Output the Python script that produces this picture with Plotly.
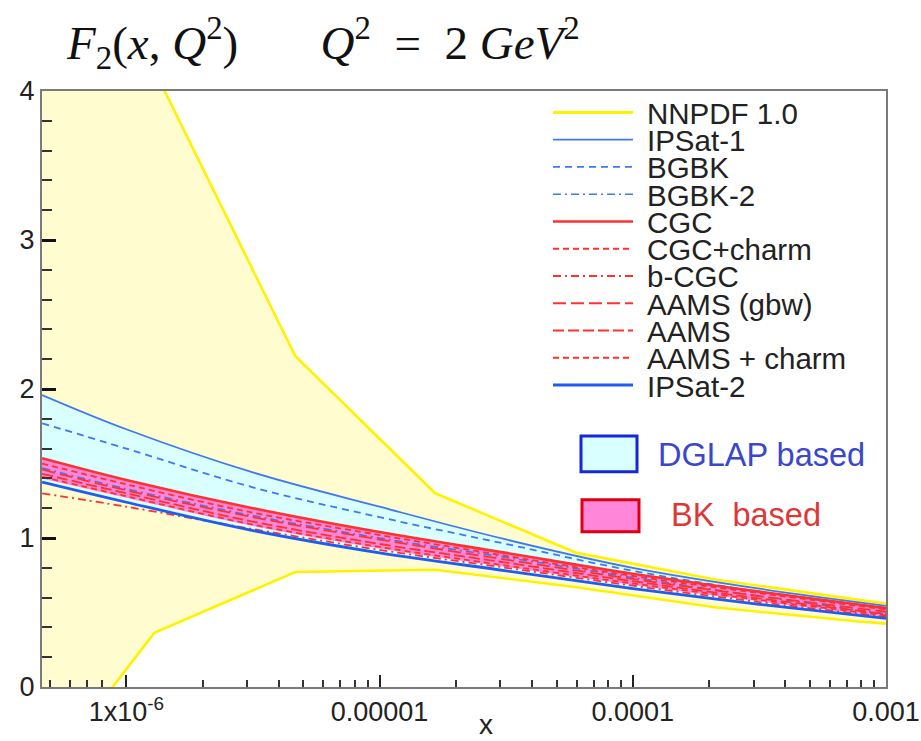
import plotly.graph_objects as go

# ---------------------------------------------------------------- data
# Smooth model curves, tabulated in half-decade steps of x
x_grid = [4.65e-7, 1e-6, 3.16e-6, 1e-5, 3.16e-5, 1e-4, 3.16e-4, 1e-3]

ipsat1 = [1.96, 1.73, 1.44, 1.21, 0.99, 0.80, 0.66, 0.545]
bgbk = [1.77, 1.60, 1.34, 1.14, 0.96, 0.78, 0.64, 0.525]
bgbk2 = [1.47, 1.33, 1.15, 1.00, 0.87, 0.735, 0.61, 0.49]
cgc = [1.536, 1.39, 1.20, 1.04, 0.90, 0.76, 0.64, 0.53]
cgc_charm = [1.50, 1.36, 1.17, 1.02, 0.88, 0.745, 0.63, 0.52]
b_cgc = [1.30, 1.21, 1.06, 0.92, 0.80, 0.68, 0.57, 0.47]
aams_gbw = [1.46, 1.32, 1.14, 0.99, 0.855, 0.725, 0.61, 0.505]
aams = [1.43, 1.30, 1.11, 0.96, 0.835, 0.71, 0.595, 0.49]
aams_charm = [1.41, 1.28, 1.09, 0.94, 0.815, 0.695, 0.585, 0.48]
ipsat2 = [1.375, 1.24, 1.05, 0.90, 0.78, 0.66, 0.555, 0.46]
bk_lower = [1.40, 1.27, 1.08, 0.93, 0.805, 0.685, 0.575, 0.47]

# NNPDF 1.0 uncertainty band (polyline knots)
nnpdf_x = [3.63e-7, 1.29e-6, 4.65e-6, 1.66e-5, 6.0e-5, 2.14e-4, 7.8e-4, 1e-3]
nnpdf_upper = [6.2, 4.14, 2.22, 1.30, 0.90, 0.72, 0.585, 0.56]
nnpdf_lower = [-0.85, 0.363, 0.772, 0.787, 0.67, 0.533, 0.44, 0.425]

x_tick_vals = [1e-6, 1e-5, 1e-4, 1e-3]
x_tick_text = ["1x10<sup>-6</sup>", "0.00001", "0.0001", "0.001"]
x_minor_vals = [5e-7, 6e-7, 7e-7, 8e-7] + [m * 10.0 ** e for e in (-6, -5, -4) for m in range(2, 10)]

# ---------------------------------------------------------------- styles
YELLOW = "#fff200"
YELLOW_FILL = "#fffdd0"
BLUE = "#3f78f0"
BLUE2 = "#1f5cf0"
RED = "#ff3030"
CYAN_FILL = "#d9ffff"
PINK_FILL = "#ff86d8"

series = [
    ("IPSat-1", ipsat1, BLUE, "solid", 1.8),
    ("BGBK", bgbk, BLUE, "7px,5px", 1.8),
    ("BGBK-2", bgbk2, BLUE, "8px,4px,2px,4px", 1.6),
    ("CGC", cgc, RED, "solid", 2.6),
    ("CGC+charm", cgc_charm, RED, "6px,4px", 1.8),
    ("b-CGC", b_cgc, RED, "8px,4px,2px,4px", 1.8),
    ("AAMS (gbw)", aams_gbw, RED, "13px,5px", 1.8),
    ("AAMS", aams, RED, "11px,4px", 1.8),
    ("AAMS + charm", aams_charm, RED, "6px,4px", 1.8),
    ("IPSat-2", ipsat2, BLUE2, "solid", 2.8),
]

W, H = 921, 741
L, R, T, B = 42, 35, 90.5, 53.5
PW, PH = W - L - R, H - T - B


def px(xp):
    return (xp - L) / PW


def py(yp):
    return (H - B - yp) / PH


fig = go.Figure()

# NNPDF band fill
fig.add_trace(go.Scatter(
    x=nnpdf_x + nnpdf_x[::-1], y=nnpdf_upper + nnpdf_lower[::-1],
    fill="toself", fillcolor=YELLOW_FILL, line=dict(width=0),
    mode="lines", showlegend=False, hoverinfo="skip"))
# NNPDF band edges
fig.add_trace(go.Scatter(
    x=nnpdf_x + [None] + nnpdf_x, y=nnpdf_upper + [None] + nnpdf_lower,
    mode="lines", line=dict(color=YELLOW, width=2.6), name="NNPDF 1.0",
    connectgaps=False, showlegend=False))

# DGLAP band (between the two IPSat curves)
fig.add_trace(go.Scatter(x=x_grid, y=ipsat2, mode="lines", line=dict(width=0, shape="spline"),
                         showlegend=False, hoverinfo="skip"))
fig.add_trace(go.Scatter(x=x_grid, y=ipsat1, mode="lines", line=dict(width=0, shape="spline"),
                         fill="tonexty", fillcolor=CYAN_FILL, showlegend=False, hoverinfo="skip"))
# BK band
fig.add_trace(go.Scatter(x=x_grid, y=bk_lower, mode="lines", line=dict(width=0, shape="spline"),
                         showlegend=False, hoverinfo="skip"))
fig.add_trace(go.Scatter(x=x_grid, y=cgc, mode="lines", line=dict(width=0, shape="spline"),
                         fill="tonexty", fillcolor=PINK_FILL, showlegend=False, hoverinfo="skip"))

for name, vals, color, dash, width in series:
    fig.add_trace(go.Scatter(x=x_grid, y=vals, mode="lines", name=name, showlegend=False,
                             line=dict(color=color, dash=dash, width=width, shape="spline")))

# ---------------------------------------------------------------- legend (drawn by hand)
legend_rows = [("NNPDF 1.0", YELLOW, "solid", 3.0)] + [(n, c, d, w) for n, _, c, d, w in series]
shapes = []
annotations = []
row0, row_step = 112, 27.3
for i, (name, color, dash, width) in enumerate(legend_rows):
    yc = row0 + i * row_step
    shapes.append(dict(type="line", xref="paper", yref="paper",
                       x0=px(553), x1=px(633), y0=py(yc), y1=py(yc),
                       line=dict(color=color, dash=dash, width=width)))
    annotations.append(dict(xref="paper", yref="paper", x=px(645), y=py(yc + 1),
                            xanchor="left", yanchor="middle", showarrow=False,
                            text=name, font=dict(family="Liberation Sans", size=29.5, color="#222")))

# band keys
shapes.append(dict(type="rect", xref="paper", yref="paper",
                   x0=px(581), x1=px(637), y0=py(436), y1=py(472),
                   fillcolor=CYAN_FILL, line=dict(color="#1428d8", width=3)))
shapes.append(dict(type="rect", xref="paper", yref="paper",
                   x0=px(582), x1=px(639), y0=py(500), y1=py(532),
                   fillcolor=PINK_FILL, line=dict(color="#dd0010", width=3)))
annotations.append(dict(xref="paper", yref="paper", x=px(656), y=py(455),
                        xanchor="left", yanchor="middle", showarrow=False,
                        text="DGLAP based", font=dict(family="Liberation Sans", size=32.5, color="#3a46cc")))
annotations.append(dict(xref="paper", yref="paper", x=px(669), y=py(515),
                        xanchor="left", yanchor="middle", showarrow=False,
                        text="BK&nbsp;&nbsp;based", font=dict(family="Liberation Sans", size=32.5, color="#dd3838")))

# title
annotations.append(dict(xref="paper", yref="paper", x=px(64), y=py(42),
                        xanchor="left", yanchor="middle", showarrow=False,
                        text="<i>F</i><sub>2</sub>(<i>x</i>,&nbsp;<i>Q</i><sup>2</sup>)"
                             "&nbsp;&nbsp;&nbsp;&nbsp;&nbsp;&nbsp;&nbsp;"
                             "<i>Q</i><sup>2</sup>&nbsp;&nbsp;=&nbsp;&nbsp;2&nbsp;<i>GeV</i><sup>2</sup>",
                        font=dict(family="Liberation Serif", size=47, color="#111")))

# x-axis title
annotations.append(dict(xref="paper", yref="paper", x=px(486), y=py(725),
                        xanchor="center", yanchor="middle", showarrow=False,
                        text="x", font=dict(family="Liberation Sans", size=28, color="#222")))

axis_font = dict(family="Liberation Sans", size=27, color="#222")

fig.update_layout(
    width=W, height=H,
    margin=dict(l=L, r=R, t=T, b=B, pad=0, autoexpand=False),
    paper_bgcolor="white", plot_bgcolor="white",
    showlegend=False,
    shapes=shapes, annotations=annotations,
    xaxis=dict(
        type="log", range=[-6.333, -3], automargin=False,
        tickmode="array", tickvals=x_tick_vals, ticktext=x_tick_text,
        ticks="inside", ticklen=12, tickwidth=2, tickcolor="#222",
        minor=dict(tickmode="array", tickvals=x_minor_vals, ticks="inside",
                   ticklen=7, tickwidth=1.5, tickcolor="#333", showgrid=False),
        showline=True, linecolor="#7a7a7a", linewidth=2, mirror=True,
        showgrid=False, zeroline=False, tickfont=axis_font,
    ),
    yaxis=dict(
        range=[0, 4], dtick=1, tick0=0, automargin=False,
        ticks="inside", ticklen=14, tickwidth=2.5, tickcolor="#111",
        minor=dict(dtick=0.2, ticks="inside", ticklen=10, tickwidth=1.5, tickcolor="#333", showgrid=False),
        showline=True, linecolor="#7a7a7a", linewidth=2, mirror=True,
        showgrid=False, zeroline=False, tickfont=axis_font,
    ),
)

fig.write_html("out.html")
